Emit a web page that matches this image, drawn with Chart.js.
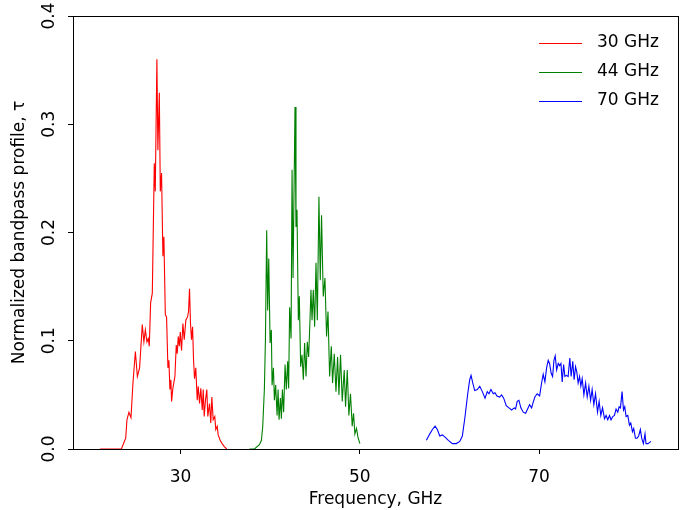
<!DOCTYPE html>
<html>
<head>
<meta charset="utf-8">
<script src="https://cdn.jsdelivr.net/npm/chart.js@4.4.1/dist/chart.umd.min.js"></script>
<style>
  html, body { margin: 0; padding: 0; background: #fff; }
  #wrap { width: 680px; height: 510px; }
</style>
</head>
<body>
<div id="wrap"><canvas id="chart"></canvas></div>
<script>
// Band names and colours
var bandNames = ['30 GHz', '44 GHz', '70 GHz'];
var bandColors = ['#ff0000', '#008000', '#0000ff'];

// 30 GHz band (frequency in GHz, normalized profile)
var freq30 = [21.0, 23.4, 23.88, 24.02, 24.24, 24.47, 24.69, 24.96, 25.18, 25.43, 25.73, 25.91, 26.07, 26.25, 26.40, 26.51, 26.66, 26.85, 27.07, 27.18, 27.36, 27.47, 27.63, 27.74, 27.88, 28.03, 28.14, 28.30, 28.44, 28.59, 28.70, 28.81, 28.92, 29.00, 29.14, 29.37, 29.52, 29.63, 29.74, 29.86, 29.97, 30.11, 30.26, 30.41, 30.59, 30.78, 30.89, 31.00, 31.11, 31.22, 31.34, 31.45, 31.56, 31.70, 31.86, 31.97, 32.12, 32.26, 32.42, 32.53, 32.64, 32.78, 32.93, 33.04, 33.23, 33.37, 33.49, 33.64, 33.82, 33.93, 34.09, 34.20, 34.42, 34.64, 34.90, 35.16];
var tau30 = [0, 0, 0.010, 0.027, 0.034, 0.029, 0.061, 0.090, 0.067, 0.075, 0.115, 0.099, 0.110, 0.099, 0.102, 0.095, 0.135, 0.144, 0.264, 0.238, 0.360, 0.276, 0.329, 0.238, 0.255, 0.178, 0.196, 0.124, 0.122, 0.075, 0.082, 0.055, 0.064, 0.044, 0.056, 0.067, 0.096, 0.088, 0.104, 0.095, 0.108, 0.091, 0.116, 0.101, 0.119, 0.122, 0.127, 0.148, 0.116, 0.101, 0.113, 0.082, 0.065, 0.075, 0.045, 0.058, 0.042, 0.056, 0.036, 0.055, 0.030, 0.045, 0.055, 0.030, 0.042, 0.024, 0.048, 0.027, 0.030, 0.018, 0.021, 0.013, 0.008, 0.005, 0.002, 0];

// 44 GHz band
var freq44 = [37.7, 38.24, 38.80, 39.02, 39.17, 39.35, 39.47, 39.61, 39.72, 39.84, 39.99, 40.13, 40.21, 40.36, 40.47, 40.61, 40.77, 40.88, 40.99, 41.14, 41.25, 41.36, 41.50, 41.66, 41.80, 41.95, 42.06, 42.17, 42.33, 42.44, 42.55, 42.66, 42.77, 42.88, 42.99, 43.14, 43.25, 43.40, 43.55, 43.70, 43.84, 44.00, 44.14, 44.29, 44.44, 44.55, 44.67, 44.81, 44.96, 45.11, 45.26, 45.44, 45.59, 45.73, 45.92, 46.11, 46.29, 46.45, 46.63, 46.82, 46.96, 47.15, 47.34, 47.52, 47.67, 47.85, 48.04, 48.26, 48.41, 48.60, 48.78, 48.96, 49.15, 49.30, 49.45, 49.63, 49.79, 50.01];
var tau44 = [0, 0, 0.004, 0.008, 0.021, 0.055, 0.101, 0.202, 0.128, 0.176, 0.098, 0.110, 0.059, 0.075, 0.045, 0.059, 0.031, 0.055, 0.027, 0.047, 0.028, 0.055, 0.034, 0.078, 0.055, 0.081, 0.056, 0.131, 0.102, 0.258, 0.158, 0.239, 0.316, 0.205, 0.221, 0.119, 0.141, 0.076, 0.087, 0.064, 0.098, 0.067, 0.099, 0.085, 0.119, 0.147, 0.119, 0.147, 0.113, 0.172, 0.119, 0.233, 0.156, 0.216, 0.141, 0.158, 0.104, 0.127, 0.067, 0.095, 0.061, 0.088, 0.053, 0.085, 0.050, 0.087, 0.044, 0.073, 0.039, 0.073, 0.031, 0.051, 0.021, 0.033, 0.014, 0.019, 0.011, 0.005];

// 70 GHz band
var freq70 = [57.43, 57.81, 58.10, 58.40, 58.65, 58.92, 59.21, 59.51, 59.88, 60.33, 60.77, 61.15, 61.44, 61.74, 62.04, 62.26, 62.41, 62.60, 62.82, 63.11, 63.38, 63.67, 63.97, 64.22, 64.41, 64.63, 64.89, 65.08, 65.30, 65.60, 65.82, 66.05, 66.34, 66.64, 66.94, 67.23, 67.38, 67.56, 67.75, 67.97, 68.23, 68.50, 68.72, 68.94, 69.17, 69.34, 69.53, 69.79, 70.06, 70.28, 70.46, 70.65, 70.84, 71.02, 71.17, 71.35, 71.51, 71.66, 71.80, 71.96, 72.14, 72.29, 72.44, 72.58, 72.74, 72.88, 73.03, 73.24, 73.43, 73.58, 73.76, 73.91, 74.07, 74.21, 74.36, 74.52, 74.66, 74.81, 75.00, 75.19, 75.37, 75.56, 75.75, 75.92, 76.11, 76.30, 76.52, 76.70, 76.89, 77.08, 77.30, 77.48, 77.66, 77.86, 78.03, 78.22, 78.41, 78.59, 78.78, 78.93, 79.08, 79.26, 79.42, 79.56, 79.71, 79.90, 80.08, 80.23, 80.42, 80.56, 80.75, 80.93, 81.11, 81.30, 81.45, 81.64, 81.82, 81.93, 82.15, 82.49];
var tau70 = [0.008, 0.014, 0.018, 0.021, 0.018, 0.012, 0.013, 0.011, 0.008, 0.005, 0.005, 0.007, 0.012, 0.030, 0.051, 0.064, 0.068, 0.061, 0.054, 0.055, 0.058, 0.053, 0.047, 0.053, 0.051, 0.055, 0.051, 0.052, 0.049, 0.048, 0.050, 0.047, 0.040, 0.038, 0.036, 0.038, 0.037, 0.044, 0.045, 0.038, 0.034, 0.033, 0.037, 0.041, 0.038, 0.043, 0.048, 0.051, 0.049, 0.061, 0.069, 0.062, 0.075, 0.082, 0.079, 0.070, 0.067, 0.082, 0.086, 0.073, 0.079, 0.077, 0.079, 0.062, 0.078, 0.067, 0.068, 0.067, 0.084, 0.067, 0.081, 0.064, 0.076, 0.071, 0.061, 0.067, 0.058, 0.065, 0.050, 0.061, 0.048, 0.058, 0.045, 0.055, 0.041, 0.051, 0.034, 0.044, 0.031, 0.038, 0.028, 0.031, 0.027, 0.031, 0.027, 0.030, 0.031, 0.037, 0.034, 0.039, 0.038, 0.053, 0.036, 0.039, 0.030, 0.031, 0.022, 0.024, 0.016, 0.019, 0.010, 0.010, 0.012, 0.018, 0.010, 0.005, 0.014, 0.005, 0.005, 0.007];

// Axis ticks
var xTicks = [30, 50, 70];
var yTicks = [0.0, 0.1, 0.2, 0.3, 0.4];

var FONT = '"DejaVu Sans", sans-serif';
var FONT_SIZE = 17;

// Pair up frequency and profile arrays into points
function toPoints(freqs, taus) {
    var n = Math.min(freqs.length, taus.length);
    var pts = [];
    for (var i = 0; i < n; i++) {
        pts.push({ x: freqs[i], y: taus[i] });
    }
    return pts;
}

var bands = [toPoints(freq30, tau30), toPoints(freq44, tau44), toPoints(freq70, tau70)];

var datasets = bands.map(function(pts, i) {
    return {
        label: bandNames[i],
        data: pts,
        borderColor: bandColors[i],
        backgroundColor: bandColors[i],
        borderWidth: 1.1,
        pointRadius: 0,
        showLine: true,
        tension: 0
    };
});

// Frame, rotated y tick labels and legend
var framePlugin = {
    id: 'frame',
    afterDraw: function(chart) {
        var ctx = chart.ctx;
        var area = chart.chartArea;
        var yScale = chart.scales.y;

        ctx.save();
        ctx.strokeStyle = '#000';
        ctx.lineWidth = 1;
        ctx.strokeRect(Math.round(area.left) + 0.5, Math.round(area.top) + 0.5,
            Math.round(area.right - area.left), Math.round(area.bottom - area.top));

        // y tick labels, read bottom to top
        ctx.fillStyle = '#000';
        ctx.font = FONT_SIZE + 'px ' + FONT;
        ctx.textAlign = 'center';
        ctx.textBaseline = 'middle';
        yScale.ticks.forEach(function(t) {
            var py = yScale.getPixelForValue(t.value);
            ctx.save();
            ctx.translate(50, py);
            ctx.rotate(-Math.PI / 2);
            ctx.fillText(t.value.toFixed(1), 0, 0);
            ctx.restore();
        });

        // legend
        ctx.textAlign = 'left';
        chart.data.datasets.forEach(function(ds, i) {
            var ly = 43 + i * 29;
            ctx.strokeStyle = ds.borderColor;
            ctx.beginPath();
            ctx.moveTo(539, ly + 0.5);
            ctx.lineTo(582, ly + 0.5);
            ctx.stroke();
            ctx.fillStyle = '#000';
            ctx.fillText(ds.label, 597, ly);
        });
        ctx.restore();
    }
};

var ctx = document.getElementById('chart');

var chart = new Chart(ctx, {
    type: 'scatter',
    data: { datasets: datasets },
    options: {
        responsive: true,
        maintainAspectRatio: false,
        animation: false,
        layout: { padding: { top: 16, right: 2, left: 0, bottom: 0 } },
        plugins: {
            legend: { display: false },
            tooltip: { enabled: false }
        },
        scales: {
            x: {
                type: 'linear',
                min: 18,
                max: 85.5,
                afterBuildTicks: function(axis) {
                    axis.ticks = xTicks.map(function(v) { return { value: v }; });
                },
                afterFit: function(axis) {
                    axis.height = 61;
                },
                grid: {
                    drawOnChartArea: false,
                    drawTicks: true,
                    tickLength: 5,
                    color: '#000'
                },
                border: { display: true, color: '#000', width: 1 },
                ticks: {
                    color: '#000',
                    padding: 13,
                    maxRotation: 0,
                    font: { family: FONT, size: FONT_SIZE },
                    callback: function(v) { return v; }
                },
                title: {
                    display: true,
                    text: 'Frequency, GHz',
                    color: '#000',
                    font: { family: FONT, size: FONT_SIZE },
                    padding: { top: 0, bottom: 0 }
                }
            },
            y: {
                type: 'linear',
                min: 0,
                max: 0.4,
                afterBuildTicks: function(axis) {
                    axis.ticks = yTicks.map(function(v) { return { value: v }; });
                },
                afterFit: function(axis) {
                    axis.width = 73;
                },
                grid: {
                    drawOnChartArea: false,
                    drawTicks: true,
                    tickLength: 5,
                    color: '#000'
                },
                border: { display: true, color: '#000', width: 1 },
                ticks: { display: false },
                title: {
                    display: true,
                    text: 'Normalized bandpass profile, \u03c4',
                    color: '#000',
                    font: { family: FONT, size: FONT_SIZE },
                    padding: { top: 9, bottom: 0 }
                }
            }
        }
    },
    plugins: [framePlugin]
});
</script>
</body>
</html>
